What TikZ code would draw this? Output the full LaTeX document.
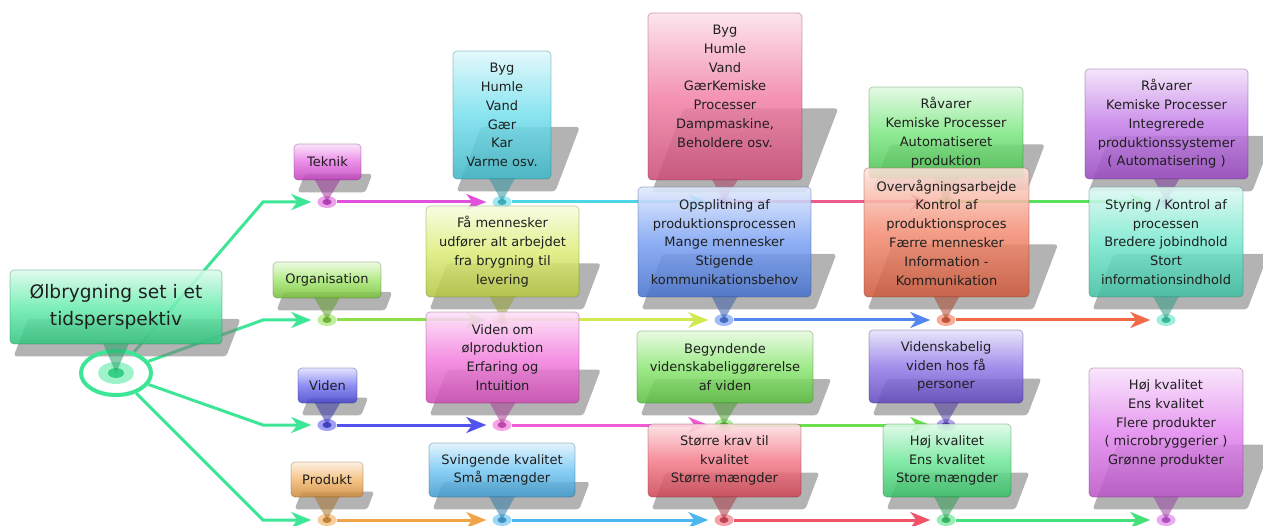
\documentclass[tikz,border=0pt]{standalone}
\usepackage{fontspec}
\setmainfont{DejaVu Sans}
\usetikzlibrary{arrows.meta}
\usetikzlibrary{shapes.geometric}
\usetikzlibrary{backgrounds}
\usetikzlibrary{calc}

\definecolor{rootgreen}{HTML}{3CE696}
\definecolor{tekcol}{HTML}{E050DC}
\definecolor{orgcol}{HTML}{8CE048}
\definecolor{vidcol}{HTML}{5252EE}
\definecolor{procol}{HTML}{F0A448}
\definecolor{cyancol}{HTML}{4CD6E8}
\definecolor{pinkcol}{HTML}{EE5C8C}
\definecolor{grnacol}{HTML}{56E05C}
\definecolor{puracol}{HTML}{B258E0}
\definecolor{yelcol}{HTML}{D2E850}
\definecolor{bluecol}{HTML}{5486F0}
\definecolor{orngcol}{HTML}{F06A48}
\definecolor{tealcol}{HTML}{4CE0BE}
\definecolor{magcol}{HTML}{F05CD4}
\definecolor{grnbcol}{HTML}{6CE04C}
\definecolor{purbcol}{HTML}{7256E0}
\definecolor{lbluecol}{HTML}{4CB6F0}
\definecolor{redcol}{HTML}{F05466}
\definecolor{grnccol}{HTML}{44E07A}
\definecolor{magbcol}{HTML}{DA64EA}

\begin{document}
\begin{tikzpicture}[x=1pt,y=-1pt,
  callout/.style={rectangle,rounded corners=4pt,inner sep=0pt,align=center,
    draw=#1!50!black,draw opacity=.4,line width=.7pt,
    top color=#1!18!white,bottom color=#1!85!black,middle color=#1!75!white,
    fill opacity=.88,text opacity=1,text=black!88,
    font=\fontsize{13}{18.8}\selectfont},
  stepdot/.style={ellipse,inner sep=0pt,minimum width=19pt,minimum height=12pt,
    fill=#1!55!white,
    path picture={\fill[#1!80!black] (path picture bounding box.center) ellipse (4.5pt and 3pt);}},
  pointer/.style={fill=#1!70!black,fill opacity=.55},
  segline/.style={draw=#1,line width=3pt,shorten >=6pt,-{Stealth[length=20pt,width=16pt,inset=6pt]}},
  shadowfill/.style={fill=black!50,fill opacity=.6,rounded corners=3pt}]
  \useasboundingbox (0,0) rectangle (1263,526);

  % root ring
  \node[ellipse,inner sep=0pt,minimum width=70pt,minimum height=44pt,draw=rootgreen,line width=4pt,
    path picture={\fill[rootgreen!50!white] (path picture bounding box.center) ellipse (18pt and 11pt);
      \fill[rootgreen!90!black] (path picture bounding box.center) ellipse (8pt and 5pt);}]
    (rootdot) at (116,373) {};
  \coordinate (bt) at (263,202);
  \coordinate (bo) at (263,320);
  \coordinate (bv) at (263,425);
  \coordinate (bp) at (263,520);

  % stations on the four time lines
  \foreach \n/\x/\y/\c in {t0/327/202/tekcol,t1/502/202/cyancol,t2/724/202/pinkcol,t3/946/202/grnacol,t4/1166/202/puracol,
      o0/327/320/orgcol,o1/502/320/yelcol,o2/724/320/bluecol,o3/946/320/orngcol,o4/1166/320/tealcol,
      v0/327/425/vidcol,v1/502/425/magcol,v2/724/425/grnbcol,v3/946/425/purbcol,
      p0/327/520/procol,p1/502/520/lbluecol,p2/724/520/redcol,p3/946/520/grnccol,p4/1166/520/magbcol}
    \node[stepdot=\c] (\n) at (\x,\y) {};

  % root and the four themes
  \node[callout=rootgreen,minimum width=212pt,minimum height=74pt,font=\fontsize{18.6}{27}\selectfont]
    (root) at (116,307) {Ølbrygning set i et\\tidsperspektiv};
  \fill[pointer=rootgreen] ($(root.south)+(-13,-1)$) -- ($(root.south)+(13,-1)$) -- (rootdot.center) -- cycle;
  \node[callout=tekcol,minimum width=67pt,minimum height=36pt] (tek) at (327.5,162) {Teknik};
  \fill[pointer=tekcol] ($(tek.south)+(-13,-1)$) -- ($(tek.south)+(13,-1)$) -- (t0.center) -- cycle;
  \node[callout=orgcol,minimum width=108pt,minimum height=36pt] (org) at (327,280) {Organisation};
  \fill[pointer=orgcol] ($(org.south)+(-13,-1)$) -- ($(org.south)+(13,-1)$) -- (o0.center) -- cycle;
  \node[callout=vidcol,minimum width=59pt,minimum height=35pt] (vid) at (327.5,385.5) {Viden};
  \fill[pointer=vidcol] ($(vid.south)+(-13,-1)$) -- ($(vid.south)+(13,-1)$) -- (v0.center) -- cycle;
  \node[callout=procol,minimum width=72pt,minimum height=35pt] (pro) at (327,479.5) {Produkt};
  \fill[pointer=procol] ($(pro.south)+(-13,-1)$) -- ($(pro.south)+(13,-1)$) -- (p0.center) -- cycle;

  % Teknik
  \node[callout=cyancol,minimum width=98pt,minimum height=128pt] (tek1) at (502,115)
    {Byg\\Humle\\Vand\\Gær\\Kar\\Varme osv.};
  \fill[pointer=cyancol] ($(tek1.south)+(-13,-1)$) -- ($(tek1.south)+(13,-1)$) -- (t1.center) -- cycle;
  \node[callout=pinkcol,minimum width=154pt,minimum height=167pt] (tek2) at (725,96.5)
    {Byg\\Humle\\Vand\\GærKemiske\\Processer\\Dampmaskine,\\Beholdere osv.\\[2pt]\mbox{}};
  \fill[pointer=pinkcol] ($(tek2.south)+(-13,-1)$) -- ($(tek2.south)+(13,-1)$) -- (t2.center) -- cycle;
  \node[callout=grnacol,minimum width=154pt,minimum height=91pt] (tek3) at (946,132.5)
    {Råvarer\\Kemiske Processer\\Automatiseret\\produktion};
  \fill[pointer=grnacol] ($(tek3.south)+(-13,-1)$) -- ($(tek3.south)+(13,-1)$) -- (t3.center) -- cycle;
  \node[callout=puracol,minimum width=163pt,minimum height=110pt] (tek4) at (1166.5,124)
    {Råvarer\\Kemiske Processer\\Integrerede\\produktionssystemer\\( Automatisering )};
  \fill[pointer=puracol] ($(tek4.south)+(-13,-1)$) -- ($(tek4.south)+(13,-1)$) -- (t4.center) -- cycle;

  % Organisation
  \node[callout=yelcol,minimum width=153pt,minimum height=91pt] (org1) at (502.5,251.5)
    {Få mennesker\\udfører alt arbejdet\\fra brygning til\\levering};
  \fill[pointer=yelcol] ($(org1.south)+(-13,-1)$) -- ($(org1.south)+(13,-1)$) -- (o1.center) -- cycle;
  \node[callout=bluecol,minimum width=173pt,minimum height=110pt] (org2) at (724.5,242)
    {Opsplitning af\\produktionsprocessen\\Mange mennesker\\Stigende\\kommunikationsbehov};
  \fill[pointer=bluecol] ($(org2.south)+(-13,-1)$) -- ($(org2.south)+(13,-1)$) -- (o2.center) -- cycle;
  \node[callout=orngcol,minimum width=165pt,minimum height=129pt] (org3) at (946.5,232.5)
    {Overvågningsarbejde\\Kontrol af\\produktionsproces\\Færre mennesker\\Information -\\Kommunikation};
  \fill[pointer=orngcol] ($(org3.south)+(-13,-1)$) -- ($(org3.south)+(13,-1)$) -- (o3.center) -- cycle;
  \node[callout=tealcol,minimum width=154pt,minimum height=110pt] (org4) at (1166,242)
    {Styring / Kontrol af\\processen\\Bredere jobindhold\\Stort\\informationsindhold};
  \fill[pointer=tealcol] ($(org4.south)+(-13,-1)$) -- ($(org4.south)+(13,-1)$) -- (o4.center) -- cycle;

  % Viden
  \node[callout=magcol,minimum width=153pt,minimum height=91pt] (vid1) at (502.5,357.5)
    {Viden om\\ølproduktion\\Erfaring og\\Intuition};
  \fill[pointer=magcol] ($(vid1.south)+(-13,-1)$) -- ($(vid1.south)+(13,-1)$) -- (v1.center) -- cycle;
  \node[callout=grnbcol,minimum width=176pt,minimum height=72pt] (vid2) at (725,367)
    {Begyndende\\videnskabeliggørerelse\\af viden};
  \fill[pointer=grnbcol] ($(vid2.south)+(-13,-1)$) -- ($(vid2.south)+(13,-1)$) -- (v2.center) -- cycle;
  \node[callout=purbcol,minimum width=154pt,minimum height=73pt] (vid3) at (946,366.5)
    {Videnskabelig\\viden hos få\\personer};
  \fill[pointer=purbcol] ($(vid3.south)+(-13,-1)$) -- ($(vid3.south)+(13,-1)$) -- (v3.center) -- cycle;

  % Produkt
  \node[callout=lbluecol,minimum width=146pt,minimum height=54pt] (pro1) at (502,470)
    {Svingende kvalitet\\Små mængder};
  \fill[pointer=lbluecol] ($(pro1.south)+(-13,-1)$) -- ($(pro1.south)+(13,-1)$) -- (p1.center) -- cycle;
  \node[callout=redcol,minimum width=153pt,minimum height=73pt] (pro2) at (724.5,460.5)
    {Større krav til\\kvalitet\\Større mængder};
  \fill[pointer=redcol] ($(pro2.south)+(-13,-1)$) -- ($(pro2.south)+(13,-1)$) -- (p2.center) -- cycle;
  \node[callout=grnccol,minimum width=128pt,minimum height=73pt] (pro3) at (947,460.5)
    {Høj kvalitet\\Ens kvalitet\\Store mængder};
  \fill[pointer=grnccol] ($(pro3.south)+(-13,-1)$) -- ($(pro3.south)+(13,-1)$) -- (p3.center) -- cycle;
  \node[callout=magbcol,minimum width=154pt,minimum height=129pt] (pro4) at (1166,432.5)
    {Høj kvalitet\\Ens kvalitet\\Flere produkter\\( microbryggerier )\\Grønne produkter\\[2pt]\mbox{}};
  \fill[pointer=magbcol] ($(pro4.south)+(-13,-1)$) -- ($(pro4.south)+(13,-1)$) -- (p4.center) -- cycle;

  \begin{scope}[on background layer]
    % branches out of the root
    \draw[segline=rootgreen] (rootdot) -- (bt) -- (t0);
    \draw[segline=rootgreen] (rootdot) -- (bo) -- (o0);
    \draw[segline=rootgreen] (rootdot) -- (bv) -- (v0);
    \draw[segline=rootgreen] (rootdot) -- (bp) -- (p0);
    % time lines
    \draw[segline=tekcol] (t0) -- (t1);
    \draw[segline=cyancol] (t1) -- (t2);
    \draw[segline=pinkcol] (t2) -- (t3);
    \draw[segline=grnacol] (t3) -- (t4);
    \draw[segline=orgcol] (o0) -- (o1);
    \draw[segline=yelcol] (o1) -- (o2);
    \draw[segline=bluecol] (o2) -- (o3);
    \draw[segline=orngcol] (o3) -- (o4);
    \draw[segline=vidcol] (v0) -- (v1);
    \draw[segline=magcol] (v1) -- (v2);
    \draw[segline=grnbcol] (v2) -- (v3);
    \draw[segline=procol] (p0) -- (p1);
    \draw[segline=lbluecol] (p1) -- (p2);
    \draw[segline=redcol] (p2) -- (p3);
    \draw[segline=grnccol] (p3) -- (p4);
    % slanted shadows
    \foreach \bx in {root,tek,org,vid,pro,tek1,tek2,tek3,tek4,org1,org2,org3,org4,vid1,vid2,vid3,pro1,pro2,pro3,pro4}
      \fill[shadowfill] let \p1=(\bx.north west), \p2=(\bx.south east), \n1={\y1-\y2} in
        (\x1+4pt,\y2-12pt) -- (\x2+4pt,\y2-12pt) -- (\x2+4pt+0.19*\n1,\y2-12pt+0.5*\n1)
        -- (\x1+4pt+0.19*\n1,\y2-12pt+0.5*\n1) -- cycle;
  \end{scope}
\end{tikzpicture}
\end{document}
